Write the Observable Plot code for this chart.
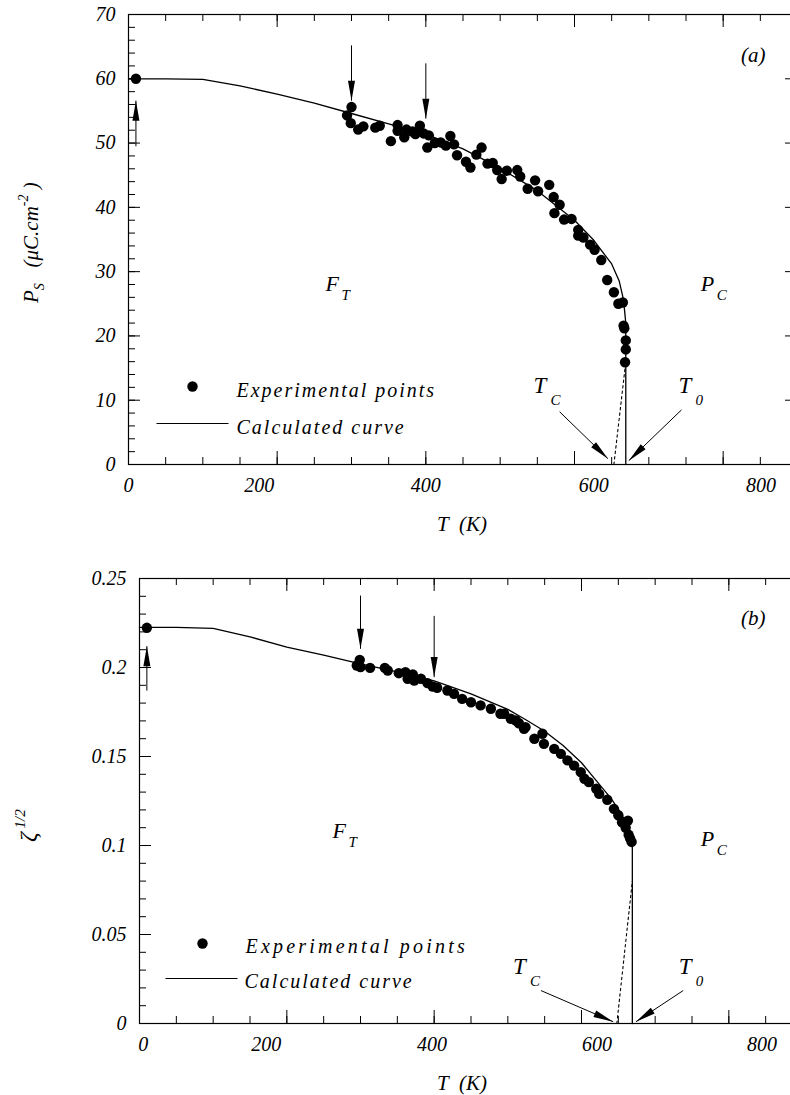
<!DOCTYPE html>
<html><head><meta charset="utf-8">
<script src="https://cdn.jsdelivr.net/npm/d3@7"></script>
<script src="https://cdn.jsdelivr.net/npm/@observablehq/plot@0.6"></script>
<style>
html,body{margin:0;padding:0;background:#fff;overflow:hidden;width:790px;height:1095px}
#chart svg{display:block;max-width:none !important}
#chart text{font-family:"Liberation Serif","Times New Roman",Times,serif !important;font-style:italic}
</style></head>
<body><div id="chart"></div>
<script>
// ---------- ticks ----------
const xMajorTicks = [0, 200, 400, 600, 800];
const xMinorTicks = [0,50,100,150,200,250,300,350,400,450,500,550,600,650,700,750,800,850,900];
const xTickLabels = ["0", "200", "400", "600", "800"];
// where the printed x labels sit in the original figure (kelvin along the tick scale)
const xLabelAtA = [0, 176, 400, 626, 851];
const xLabelAtB = [5, 172, 397, 621, 845];
const yMajorA = [0,10,20,30,40,50,60,70];
const yLabelsA = ["0","10","20","30","40","50","60","70"];
const yMinorA = [0,2,4,6,8,10,12,14,16,18,20,22,24,26,28,30,32,34,36,38,40,42,44,46,48,50,52,54,56,58,60,62,64,66,68,70];
const yMajorB = [0,0.05,0.1,0.15,0.2,0.25];
const yLabelsB = ["0","0.05","0.1","0.15","0.2","0.25"];
const yMinorB = [0,0.01,0.02,0.03,0.04,0.05,0.06,0.07,0.08,0.09,0.1,0.11,0.12,0.13,0.14,0.15,0.16,0.17,0.18,0.19,0.2,0.21,0.22,0.23,0.24,0.25];

// ---------- panel (a): Ps ----------
const curveA = [[0,60],[50,60],[100,59.9],[150,58.9],[200,57.6],[250,56.2],[300,54.6],[350,53],[400,51.4],[450,49.1],[500,46.1],[550,42.6],[600,38],[625,35],[650,31.2],[660,28.6],[666,25.6],[669,22],[669,0]];
const dottedA = [[653,0],[668,15]];
const expA = [[10,60],[294,54.3],[300,55.6],[299,53.1],[309,52.1],[316,52.6],[332,52.4],[338,52.7],[353,50.3],[362,52.8],[362,51.9],[371,50.9],[374,52.1],[382,51.8],[386,51.4],[392,52.7],[397,51.5],[404,51.2],[402,49.3],[412,50],[420,50.1],[427,49.6],[433,51.1],[438,49.8],[442,48.1],[454,47.1],[460,46.2],[468,48.2],[475,49.3],[483,46.8],[490,46.9],[496,45.8],[502,44.4],[509,45.7],[523,45.8],[527,44.8],[537,42.9],[547,44.2],[551,42.5],[566,43.5],[572,41.6],[580,40.4],[573,39.1],[586,38.1],[596,38.2],[605,36.5],[605,35.6],[612,35.3],[621,34.2],[627,33.4],[636,31.8],[644,28.7],[653,26.8],[659,25],[665,25.2],[666,21.6],[667,21.2],[669,19.3],[669,17.9],[668,15.9]];
// vertical arrows: [T, from, to]
const vArrowsA = [[10,49.5,56.6],[300,65.2,56.6],[400,62.4,53.8]];
// Tc / T0 arrows: [T from, v from, T to, v to]
const tArrowsA = [[580,8.2,645,0.9],[744,8.5,673,0.6]];
const tLabelsA = [{T:545,v:11.2,main:"T",sub:"C"},{T:740,v:11.2,main:"T",sub:"0"}];
const phaseLabelsA = [{T:265,v:27,main:"F",sub:"T"},{T:770,v:27,main:"P",sub:"C"}];

// ---------- panel (b): zeta^1/2 ----------
const curveB = [[0,0.2225],[50,0.2225],[100,0.222],[150,0.2172],[200,0.2115],[250,0.207],[300,0.202],[350,0.1975],[400,0.1925],[450,0.1852],[500,0.1765],[525,0.1705],[550,0.1642],[575,0.1562],[600,0.1465],[622,0.1355],[640,0.1265],[650,0.1205],[660,0.1135],[666,0.1075],[669,0.1],[669,0]];
const dottedB = [[648,0],[669,0.08]];
const expB = [[10,0.2223],[295,0.2011],[299,0.2043],[300,0.2002],[313,0.1998],[333,0.1998],[337,0.1983],[352,0.1968],[361,0.1974],[364,0.1937],[371,0.1961],[373,0.1927],[382,0.1937],[391,0.1912],[398,0.1893],[404,0.1886],[418,0.1871],[427,0.1852],[438,0.1824],[450,0.1805],[463,0.1787],[477,0.1768],[490,0.174],[495,0.174],[504,0.1712],[511,0.1702],[515,0.1687],[522,0.1656],[524,0.1665],[536,0.16],[547,0.1628],[549,0.1571],[563,0.1543],[572,0.1515],[581,0.1478],[590,0.1449],[599,0.1412],[604,0.1375],[610,0.1356],[620,0.1319],[624,0.129],[635,0.1257],[644,0.1206],[650,0.117],[655,0.113],[660,0.11],[663,0.114],[664,0.106],[666,0.104],[668,0.102]];
const vArrowsB = [[10,0.187,0.212],[300,0.2404,0.2105],[400,0.229,0.1946]];
const tArrowsB = [[545,0.0185,643,0.001],[738,0.0185,674,0.001]];
const tLabelsB = [{T:507,v:0.028,main:"T",sub:"C"},{T:732,v:0.028,main:"T",sub:"0"}];
const phaseLabelsB = [{T:262,v:0.104,main:"F",sub:"T"},{T:762,v:0.1,main:"P",sub:"C"}];

const FONT = "Liberation Serif, Times New Roman, Times, serif";

function legendLine() {
  return {draw(ctx) { ctx.moveTo(-36, 0); ctx.lineTo(36, 0); }};
}

function panel(cfg) {
  const {width, height, mt, mb, ml, mr, yDomain, yMajor, yLabels, yMinor, xLabelAt,
         curve, dotted, exp, vArrows, tArrows, tLabels, phaseLabels, tag, lg} = cfg;
  const fw = width - ml - mr, fh = height - mt - mb;
  const xLabels = xTickLabels.map((label, i) => ({label, at: xLabelAt[i]}));
  const svg = Plot.plot({
    width, height, marginTop: mt, marginBottom: mb, marginLeft: ml, marginRight: mr,
    x: {domain: [0, 900], axis: null},
    y: {domain: yDomain},
    style: {fontFamily: FONT, fontStyle: "italic", fontSize: "20px", color: "black", background: "white", maxWidth: "none"},
    marks: [
      Plot.frame({stroke: "black", strokeWidth: 1.2}),
      // inward ticks, bottom & top
      Plot.tickX(xMinorTicks, {x: d => d, insetTop: fh - 7, stroke: "black"}),
      Plot.tickX(xMajorTicks, {x: d => d, insetTop: fh - 13, stroke: "black"}),
      Plot.tickX(xMinorTicks, {x: d => d, insetBottom: fh - 7, stroke: "black"}),
      Plot.tickX(xMajorTicks, {x: d => d, insetBottom: fh - 13, stroke: "black"}),
      // inward ticks, left & right
      Plot.tickY(yMinor, {y: d => d, insetRight: fw - 7, stroke: "black"}),
      Plot.tickY(yMajor, {y: d => d, insetRight: fw - 12, stroke: "black"}),
      Plot.tickY(yMinor, {y: d => d, insetLeft: fw - 7, stroke: "black"}),
      Plot.tickY(yMajor, {y: d => d, insetLeft: fw - 12, stroke: "black"}),
      // x tick labels as printed
      Plot.text(xLabels, {x: "at", text: "label", frameAnchor: "bottom", lineAnchor: "top", dy: 13, fontSize: 20}),
      Plot.axisY({ticks: yMajor, tickSize: 0, tickPadding: 13, label: null,
                  tickFormat: d => yLabels[yMajor.indexOf(d)], fontSize: 20}),
      // curves
      Plot.line(curve, {x: d => d[0], y: d => d[1], stroke: "black", strokeWidth: 1.3}),
      Plot.line(dotted, {x: d => d[0], y: d => d[1], stroke: "black", strokeWidth: 1.1, strokeDasharray: "2.5,3"}),
      Plot.dot(exp, {x: d => d[0], y: d => d[1], r: 5.2, fill: "black"}),
      // arrows
      Plot.link(vArrows, {x1: d => d[0], x2: d => d[0], y1: d => d[1], y2: d => d[2], stroke: "black", strokeWidth: 1}),
      Plot.link(tArrows, {x1: d => d[0], y1: d => d[1], x2: d => d[2], y2: d => d[3], stroke: "black", strokeWidth: 1}),
      // labels
      Plot.text(tLabels, {x: "T", y: "v", text: "main", textAnchor: "start", lineAnchor: "bottom", fontSize: 23}),
      Plot.text(tLabels, {x: "T", y: "v", text: "sub", textAnchor: "start", lineAnchor: "bottom", fontSize: 15, dx: 17, dy: 12}),
      Plot.text(phaseLabels, {x: "T", y: "v", text: "main", textAnchor: "start", lineAnchor: "bottom", fontSize: 22}),
      Plot.text(phaseLabels, {x: "T", y: "v", text: "sub", textAnchor: "start", lineAnchor: "bottom", fontSize: 15, dx: 16, dy: 9}),
      Plot.text([tag], {frameAnchor: "top-right", text: d => d, textAnchor: "end", lineAnchor: "bottom", dx: cfg.tagDx, dy: cfg.tagDy, fontSize: 21}),
      // legend
      Plot.dot([0], {frameAnchor: "bottom-left", dx: lg.dotDx, dy: lg.dotDy, r: 5.2, fill: "black"}),
      Plot.text(["Experimental points"], {frameAnchor: "bottom-left", text: d => d, textAnchor: "start", lineAnchor: "bottom", dx: lg.t1Dx, dy: lg.t1Dy, fontSize: 20}),
      Plot.dot([0], {frameAnchor: "bottom-left", dx: lg.lineDx, dy: lg.lineDy, symbol: legendLine(), stroke: "black", fill: "none", strokeWidth: 1.1}),
      Plot.text(["Calculated curve"], {frameAnchor: "bottom-left", text: d => d, textAnchor: "start", lineAnchor: "bottom", dx: lg.t2Dx, dy: lg.t2Dy, fontSize: 20})
    ]
  });
  svg.style.maxWidth = "none";
  const s = d3.select(svg);
  s.selectAll("text").attr("font-family", FONT).style("font-family", FONT).style("font-style", "italic");
  // spaced legend text as in the original
  s.selectAll("text").filter(function() { return /Experimental/.test(this.textContent); })
    .style("letter-spacing", lg.sp1 + "px");
  s.selectAll("text").filter(function() { return /Calculated/.test(this.textContent); })
    .style("letter-spacing", lg.sp2 + "px");
  // filled arrowheads
  const id = "head-" + tag.replace(/\W/g, "");
  s.append("defs").append("marker")
    .attr("id", id).attr("viewBox", "-22 -5 23 10").attr("refX", 0).attr("refY", 0)
    .attr("markerWidth", 23).attr("markerHeight", 10).attr("markerUnits", "userSpaceOnUse")
    .attr("orient", "auto")
    .append("path").attr("d", "M0,0L-20,-3.5L-20,3.5Z").attr("fill", "black");
  s.selectAll('g[aria-label="link"] path').attr("marker-end", `url(#${id})`);
  return svg;
}

const chart = document.getElementById("chart");

const svgA = panel({
  width: 800, height: 540, mt: 14, mb: 76, ml: 128, mr: 3,
  yDomain: [0, 70], yMajor: yMajorA, yLabels: yLabelsA, yMinor: yMinorA, xLabelAt: xLabelAtA,
  curve: curveA, dotted: dottedA, exp: expA, vArrows: vArrowsA, tArrows: tArrowsA,
  tLabels: tLabelsA, phaseLabels: phaseLabelsA, tag: "(a)", tagDx: -32, tagDy: 47,
  lg: {dotDx: 64, dotDy: -78, t1Dx: 108, t1Dy: -68, lineDx: 64, lineDy: -41, t2Dx: 108, t2Dy: -31, sp1: 2, sp2: 2}
});
chart.appendChild(svgA);

const svgB = panel({
  width: 805, height: 555, mt: 38, mb: 72, ml: 139, mr: 3,
  yDomain: [0, 0.25], yMajor: yMajorB, yLabels: yLabelsB, yMinor: yMinorB, xLabelAt: xLabelAtB,
  curve: curveB, dotted: dottedB, exp: expB, vArrows: vArrowsB, tArrows: tArrowsB,
  tLabels: tLabelsB, phaseLabels: phaseLabelsB, tag: "(b)", tagDx: -37, tagDy: 46,
  lg: {dotDx: 63, dotDy: -80, t1Dx: 106, t1Dy: -71, lineDx: 62, lineDy: -45, t2Dx: 105, t2Dy: -36, sp1: 3.2, sp2: 2}
});
chart.appendChild(svgB);

// axis titles (with sub/superscripts)
function xTitle(svg, y) {
  d3.select(svg).append("text").attr("x", 462).attr("y", y).attr("text-anchor", "middle")
    .attr("font-family", FONT).attr("font-style", "italic").attr("font-size", 21)
    .style("white-space", "pre").text("T  (K)");
}
xTitle(svgA, 531);
xTitle(svgB, 550);

{
  const t = d3.select(svgA).append("text").attr("transform", "translate(38,303) rotate(-90)")
    .attr("font-family", FONT).attr("font-style", "italic").attr("font-size", 21).attr("text-anchor", "start");
  t.append("tspan").text("P");
  t.append("tspan").attr("font-size", 14).attr("dy", 6).text("S");
  t.append("tspan").attr("dy", -6).text("\u00a0\u00a0\u00a0(\u03bcC.cm");
  t.append("tspan").attr("font-size", 14).attr("dy", -10).text("-2");
  t.append("tspan").attr("dy", 10).text("\u00a0)");
}
{
  const t = d3.select(svgB).append("text").attr("transform", "translate(36,302) rotate(-90)")
    .attr("font-family", FONT).attr("font-style", "italic").attr("font-size", 24).attr("text-anchor", "start");
  t.append("tspan").text("\u03b6");
  t.append("tspan").attr("font-size", 15).attr("dy", -11).text("\u00a01/2");
}
</script>
</body></html>
